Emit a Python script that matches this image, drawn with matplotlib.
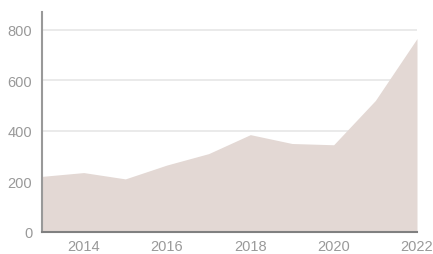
import matplotlib
matplotlib.use("Agg")
import matplotlib.pyplot as plt

years = [2013, 2014, 2015, 2016, 2017, 2018, 2019, 2020, 2021, 2022]
values = [220, 235, 210, 265, 310, 385, 350, 345, 520, 765]
xticks = [2014, 2016, 2018, 2020, 2022]
yticks = [0, 200, 400, 600, 800]

plt.rcParams['font.family'] = ['Liberation Sans', 'DejaVu Sans']
fig = plt.figure(figsize=(4.33, 2.55), dpi=100)
ax = fig.add_axes([42/433, 1-233/255, (417-42)/433, (233-13)/255])
ax.fill_between(years, values, 0, color='#e3d8d4', linewidth=0, zorder=2)
ax.set_xlim(2013, 2022)
ax.set_ylim(0, 870)
ax.set_xticks(xticks)
ax.set_yticks(yticks)
ax.grid(axis='y', color='#e6e6e6', linewidth=1.2, zorder=1)
ax.tick_params(length=0, labelsize=10.5, colors='#999999')
ax.tick_params(axis='y', pad=7)
ax.tick_params(axis='x', pad=5)
for s in ['top', 'right']:
    ax.spines[s].set_visible(False)
ax.spines['left'].set_color('#999999')
ax.spines['left'].set_linewidth(1.5)
ax.spines['bottom'].set_color('#808080')
ax.spines['bottom'].set_linewidth(1.5)
ax.spines['bottom'].set_zorder(3)
fig.savefig('out.png', dpi=100)
